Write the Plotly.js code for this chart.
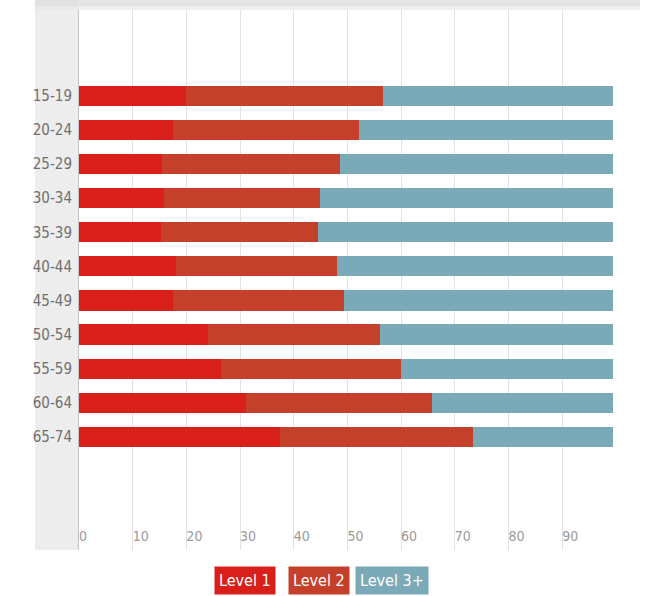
<!DOCTYPE html>
<html>
<head>
<meta charset="utf-8">
<script src="https://cdn.plot.ly/plotly-3.0.1.min.js"></script>
<style>html,body{margin:0;padding:0;background:#fff;}#chart{width:649px;height:596px;}</style>
</head>
<body>
<div id="chart"></div>
<script>
const ageGroups = ["15-19","20-24","25-29","30-34","35-39","40-44","45-49","50-54","55-59","60-64","65-74"];
const level1 = [19.9, 17.6, 15.4, 15.9, 15.3, 18.0, 17.6, 24.1, 26.4, 31.1, 37.5];
const level2 = [36.8, 34.6, 33.2, 29.0, 29.3, 30.1, 31.7, 32.0, 33.6, 34.6, 35.8];
const level3 = [42.8, 47.3, 50.9, 54.6, 54.9, 51.4, 50.2, 43.4, 39.5, 33.8, 26.2];
const seriesNames = ["Level 1", "Level 2", "Level 3+"];
const xTicks = [0,10,20,30,40,50,60,70,80,90];

const colors = ["#d81f1a", "#c5402b", "#7aaab8"];
const font = "Liberation Sans Narrow, DejaVu Sans Condensed, Arial Narrow, sans-serif";

const data = [level1, level2, level3].map((vals, i) => ({
  type: "bar",
  orientation: "h",
  name: seriesNames[i],
  y: ageGroups,
  x: vals,
  marker: {color: colors[i], line: {width: 0}},
  hoverinfo: "x+y+name"
}));

const annotations = seriesNames.map((n, i) => ({
  xref: "paper", yref: "paper",
  x: [0.296, 0.428, 0.558][i], y: -0.0556,
  xanchor: "center", yanchor: "middle",
  text: n, showarrow: false,
  font: {family: font, size: 16, color: "#ffffff"},
  bgcolor: colors[i], borderpad: 4
}));

const layout = {
  width: 649, height: 596,
  margin: {l: 79, r: 9, t: 10, b: 46},
  paper_bgcolor: "#ffffff", plot_bgcolor: "#ffffff",
  barmode: "stack",
  bargap: 0.41,
  showlegend: false,
  xaxis: {
    range: [0, 104.5],
    tickvals: xTicks,
    ticktext: xTicks.map(String),
    ticklabelposition: "inside right",
    ticks: "",
    showgrid: true, gridcolor: "#e2e2e2", gridwidth: 1,
    zeroline: false, showline: false,
    tickfont: {family: font, size: 14, color: "#9a9a9a"},
    fixedrange: true
  },
  yaxis: {
    type: "category",
    categoryorder: "array", categoryarray: ageGroups,
    range: [13.32, -2.52],
    ticks: "",
    showgrid: false, zeroline: false,
    showline: true, linecolor: "#c4c4c4", linewidth: 1,
    ticklabelstandoff: 3,
    tickfont: {family: font, size: 15, color: "#707070"},
    fixedrange: true
  },
  shapes: [
    {type: "rect", xref: "paper", yref: "paper", x0: -0.0784, x1: 0, y0: 0, y1: 1.0185,
     fillcolor: "#ededed", line: {width: 0}, layer: "below"},
    {type: "rect", xref: "paper", yref: "paper", x0: -0.0784, x1: 1.0, y0: 1.0, y1: 1.0185,
     fillcolor: "#e6e6e6", opacity: 0.6, line: {width: 0}, layer: "below"},
    {type: "rect", xref: "paper", yref: "paper", x0: -0.0784, x1: 1.0, y0: 1.007, y1: 1.0185,
     fillcolor: "#dcdcdc", opacity: 0.6, line: {width: 0}, layer: "below"}
  ],
  annotations: annotations,
  font: {family: font}
};

Plotly.newPlot("chart", data, layout, {displayModeBar: false, staticPlot: true});
</script>
</body>
</html>
